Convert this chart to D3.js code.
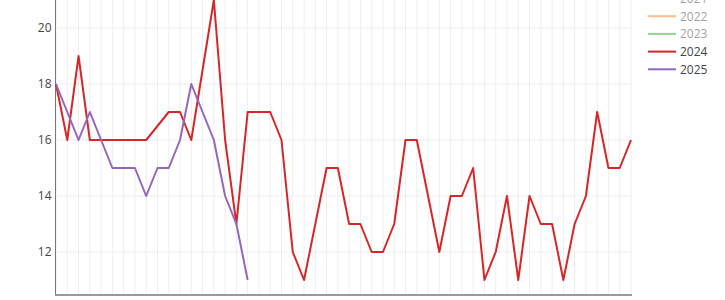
<!DOCTYPE html>
<html lang="en">

<head>
    <meta charset="utf-8">
    <title>Weekly values by year</title>
    <script type="text/javascript" src="https://cdn.jsdelivr.net/npm/d3@7"></script>
    <style type="text/css">
        body {
            margin: 0;
            background: #fff;
        }

        svg text {
            font-family: "Open Sans", "DejaVu Sans", sans-serif;
            font-size: 12px;
        }
    </style>
</head>

<body>
    <script type="text/javascript">
        // data (one value per week)
        var weeks = d3.range(1, 53);
        var values2024 = [18, 16, 19, 16, 16, 16, 16, 16, 16, 16.5, 17, 17, 16, 18.5, 21, 16, 13, 17, 17, 17,
            16, 12, 11, 13, 15, 15, 13, 13, 12, 12, 13, 16, 16, 14, 12, 14, 14, 15, 11, 12,
            14, 11, 14, 13, 13, 11, 13, 14, 17, 15, 15, 16];
        var values2025 = [18, 17, 16, 17, 16, 15, 15, 15, 14, 15, 15, 16, 18, 17, 16, 14, 13, 11];
        var yTicks = [12, 14, 16, 18, 20];
        var legendYears = ["2021", "2022", "2023", "2024", "2025"];
        var legendVisible = [false, false, false, true, true];

        var w = 725;
        var h = 300;
        var colors = d3.scaleOrdinal()
            .domain(legendYears)
            .range(["#1f77b4", "#ff7f0e", "#2ca02c", "#d62728", "#9467bd"]);

        var svg = d3.select("body")
            .append("svg")
            .attr("width", w)
            .attr("height", h);

        var xScale = d3.scalePoint()
            .domain(weeks)
            .range([56, 631]);

        var yScale = d3.scaleLinear()
            .domain([12, 20])
            .range([252, 28]);

        var bottom = 295;

        //grid lines
        svg.append("g")
            .selectAll("line")
            .data(weeks)
            .enter().append("line")
            .attr("x1", d => xScale(d))
            .attr("x2", d => xScale(d))
            .attr("y1", 0)
            .attr("y2", bottom)
            .attr("stroke", "#eee")
            .attr("stroke-width", 1);

        svg.append("g")
            .selectAll("line")
            .data(yTicks)
            .enter().append("line")
            .attr("x1", 56)
            .attr("x2", 631)
            .attr("y1", d => yScale(d))
            .attr("y2", d => yScale(d))
            .attr("stroke", "#eee")
            .attr("stroke-width", 1);

        //y axis
        var yAxis = d3.axisLeft(yScale)
            .tickValues(yTicks)
            .tickSize(0)
            .tickPadding(4);

        var yAxisG = svg.append("g")
            .attr("transform", "translate(55.5,0)")
            .call(yAxis);
        yAxisG.select(".domain").remove();
        yAxisG.selectAll("text")
            .attr("fill", "#444")
            .style("font-size", "12px")
            .style("font-family", "'Open Sans', 'DejaVu Sans', sans-serif");

        svg.append("line")
            .attr("x1", 55.5).attr("x2", 55.5)
            .attr("y1", 0).attr("y2", bottom + 1)
            .attr("stroke", "#777")
            .attr("stroke-width", 1);

        svg.append("line")
            .attr("x1", 55).attr("x2", 632)
            .attr("y1", bottom).attr("y2", bottom)
            .attr("stroke", "#999")
            .attr("stroke-width", 2);

        //lines
        var line = d3.line()
            .x(d => xScale(d.week))
            .y(d => yScale(d.value));

        var series = [
            { year: "2024", values: values2024 },
            { year: "2025", values: values2025 }
        ];

        svg.append("g")
            .selectAll("path")
            .data(series)
            .enter().append("path")
            .attr("d", s => line(s.values.map((v, i) => ({ week: weeks[i], value: v }))))
            .attr("fill", "none")
            .attr("stroke", s => colors(s.year))
            .attr("stroke-width", 2)
            .attr("stroke-linejoin", "round");

        //legend
        var legend = svg.append("g")
            .selectAll("g")
            .data(legendYears)
            .enter().append("g")
            .attr("transform", (d, i) => "translate(648," + (-1.5 + i * 17.7) + ")")
            .attr("opacity", (d, i) => legendVisible[i] ? 1 : 0.5);

        legend.append("line")
            .attr("x1", 0).attr("x2", 28)
            .attr("y1", 0).attr("y2", 0)
            .attr("stroke", d => colors(d))
            .attr("stroke-width", 2);

        legend.append("text")
            .attr("x", 32)
            .attr("y", 0)
            .attr("dy", "0.36em")
            .attr("fill", "#444")
            .text(d => d);
    </script>
</body>

</html>
